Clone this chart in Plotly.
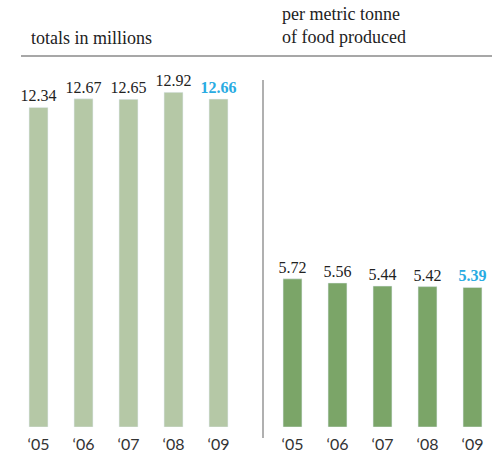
import plotly.graph_objects as go

years = ["‘05", "‘06", "‘07", "‘08", "‘09"]
totals = [12.34, 12.67, 12.65, 12.92, 12.66]
per_tonne = [5.72, 5.56, 5.44, 5.42, 5.39]

W, H = 492, 453
light_green = "#b5c8a6"
dark_green = "#7ba568"
cyan = "#29abe2"
serif = "Liberation Serif"
sans = "Lato"

def labels(vals):
    out = [f"{v:.2f}" for v in vals]
    out[-1] = f"<b>{out[-1]}</b>"
    return out

def colors(vals):
    return ["#222222"] * (len(vals) - 1) + [cyan]

xs = list(range(len(years)))

fig = go.Figure()
fig.add_trace(go.Bar(x=xs, y=totals, width=0.42, marker_color=light_green,
                     text=labels(totals), textposition="outside", constraintext="none",
                     textfont=dict(family=serif, size=16, color=colors(totals)),
                     cliponaxis=False, xaxis="x", yaxis="y", hoverinfo="skip"))
fig.add_trace(go.Bar(x=xs, y=per_tonne, width=0.42, marker_color=dark_green,
                     text=labels(per_tonne), textposition="outside", constraintext="none",
                     textfont=dict(family=serif, size=16, color=colors(per_tonne)),
                     cliponaxis=False, xaxis="x2", yaxis="y2", hoverinfo="skip"))

ydom = [26 / H, 414.5 / H]
axis_common = dict(showgrid=False, zeroline=False, showline=False, ticks="",
                   tickvals=xs, ticktext=years, ticklabelstandoff=6,
                   tickfont=dict(family=sans, size=16, color="#333333"))
fig.update_layout(
    width=W, height=H,
    margin=dict(l=0, r=0, t=0, b=0),
    paper_bgcolor="white", plot_bgcolor="white",
    showlegend=False,
    xaxis=dict(domain=[16 / W, 241 / W], range=[-0.5, 4.5], anchor="y", **axis_common),
    xaxis2=dict(domain=[270 / W, 1], range=[-0.5, 4.5 - 3 / 45], anchor="y2", **axis_common),
    yaxis=dict(domain=ydom, range=[0, 15], visible=False),
    yaxis2=dict(domain=ydom, range=[0, 15], visible=False, anchor="x2"),
    font=dict(family=serif),
)

fig.add_annotation(text="totals in millions", xref="paper", yref="paper",
                   x=29 / W, y=1 - 50 / H, xanchor="left", yanchor="bottom",
                   showarrow=False, font=dict(family=serif, size=18, color="#222222"))
fig.add_annotation(text="per metric tonne<br>of food produced", xref="paper", yref="paper",
                   x=280 / W, y=1 - 49 / H, xanchor="left", yanchor="bottom", align="left",
                   showarrow=False, font=dict(family=serif, size=18, color="#222222"))

fig.add_shape(type="line", xref="paper", yref="paper",
              x0=21 / W, x1=1, y0=1 - 56 / H, y1=1 - 56 / H,
              line=dict(color="#8a8a8a", width=1.5))
fig.add_shape(type="line", xref="paper", yref="paper",
              x0=263 / W, x1=263 / W, y0=1 - 80 / H, y1=1 - 438 / H,
              line=dict(color="#b0b0b0", width=2))

fig.write_html("out.html", config={"displayModeBar": False},
               post_script="document.body.style.margin='0';document.body.style.overflow='hidden';")
